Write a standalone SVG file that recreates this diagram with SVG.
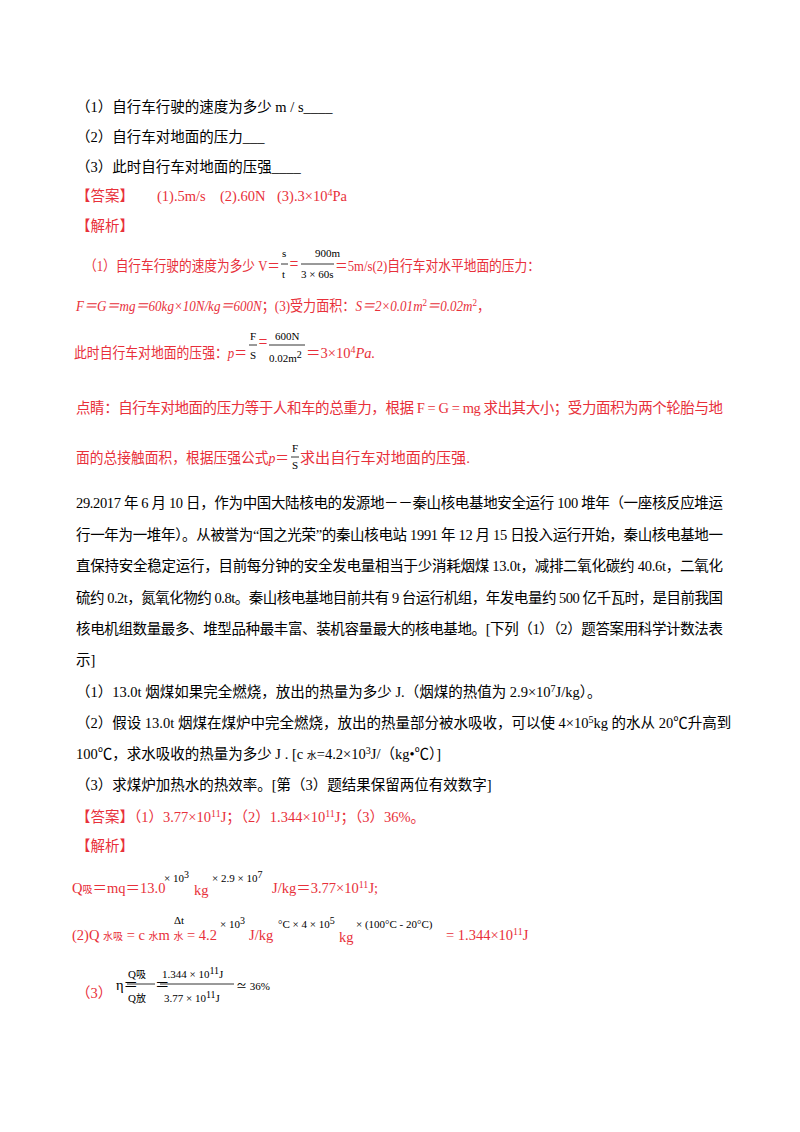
<svg xmlns="http://www.w3.org/2000/svg" width="800" height="1132" viewBox="0 0 800 1132">
<style>
text{font-family:"Liberation Serif","Noto Sans CJK SC",serif;font-size:14.5px;fill:#000}
.r{fill:#e8303a}
.s{font-size:10px}
.f{font-size:11px}
.a{font-family:"Liberation Sans","Noto Sans CJK SC",sans-serif}
line{stroke:#000;stroke-width:0.8}
</style>
<rect width="800" height="1132" fill="#fff"/>
<g id="q1">
<text x="76" y="112">（1）自行车行驶的速度为多少 m / s____</text>
<text x="76" y="142">（2）自行车对地面的压力___</text>
<text x="76" y="172">（3）此时自行车对地面的压强____</text>
<text x="76" y="201" class="r">【答案】</text>
<text x="157" y="201" class="r">(1).5m/s</text>
<text x="220" y="201" class="r">(2).60N</text>
<text x="277" y="201" class="r">(3).3×10<tspan class="s" dy="-5">4</tspan><tspan dy="5">Pa</tspan></text>
<text x="76" y="231" class="r">【解析】</text>
<text x="84" y="271" class="r" textLength="196" lengthAdjust="spacingAndGlyphs">（1）自行车行驶的速度为多少 V＝</text>
<text x="282" y="257" class="f">s</text><line x1="281" y1="264" x2="288" y2="264"/><text x="282" y="278" class="f">t</text>
<text x="289" y="269" class="r" textLength="10" lengthAdjust="spacingAndGlyphs">＝</text>
<text x="315" y="257" class="f">900m</text><line x1="301" y1="264" x2="334" y2="264"/><text x="301" y="278" class="f">3 × 60s</text>
<text x="335" y="271" class="r" textLength="205" lengthAdjust="spacingAndGlyphs">＝5m/s(2)自行车对水平地面的压力：</text>
<text x="76" y="311" class="r" textLength="414" lengthAdjust="spacingAndGlyphs"><tspan font-style="italic">F＝G＝mg＝60kg×10N/kg＝600N</tspan>；(3)受力面积：<tspan font-style="italic">S＝2×0.01m</tspan><tspan class="s" dy="-5">2</tspan><tspan dy="5" font-style="italic">＝0.02m</tspan><tspan class="s" dy="-5">2</tspan><tspan dy="5">，</tspan></text>
<text x="74" y="358" class="r" textLength="173" lengthAdjust="spacingAndGlyphs">此时自行车对地面的压强：<tspan font-style="italic">p</tspan>＝</text>
<text x="250" y="340" class="f">F</text><line x1="249" y1="345" x2="257" y2="345"/><text x="250" y="359" class="f">S</text>
<text x="258" y="347" class="r" textLength="10" lengthAdjust="spacingAndGlyphs">＝</text>
<text x="275" y="340" class="f">600N</text><line x1="269" y1="345" x2="305" y2="345"/><text x="269" y="362" class="f">0.02m<tspan class="s" dy="-4">2</tspan></text>
<text x="306" y="358" class="r">＝3×10<tspan class="s" dy="-5">4</tspan><tspan dy="5" font-style="italic">Pa.</tspan></text>
<text x="76" y="413" class="r" textLength="647">点睛：自行车对地面的压力等于人和车的总重力，根据 F = G = mg 求出其大小；受力面积为两个轮胎与地</text>
<text x="76" y="463" class="r" textLength="213" lengthAdjust="spacingAndGlyphs">面的总接触面积，根据压强公式<tspan font-style="italic">p</tspan>＝</text>
<text x="292" y="452" class="f">F</text><line x1="291" y1="457" x2="299" y2="457"/><text x="292" y="469" class="f">S</text>
<text x="300" y="463" class="r" textLength="170" lengthAdjust="spacingAndGlyphs">求出自行车对地面的压强.</text>
</g>
<g id="q29">
<text x="76" y="508" textLength="647">29.2017 年 6 月 10 日，作为中国大陆核电的发源地－－秦山核电基地安全运行 100 堆年（一座核反应堆运</text>
<text x="76" y="540" textLength="647">行一年为一堆年）。从被誉为“国之光荣”的秦山核电站 1991 年 12 月 15 日投入运行开始，秦山核电基地一</text>
<text x="76" y="571" textLength="647">直保持安全稳定运行，目前每分钟的安全发电量相当于少消耗烟煤 13.0t，减排二氧化碳约 40.6t，二氧化</text>
<text x="76" y="603" textLength="647">硫约 0.2t，氮氧化物约 0.8t。秦山核电基地目前共有 9 台运行机组，年发电量约 500 亿千瓦时，是目前我国</text>
<text x="76" y="634" textLength="647">核电机组数量最多、堆型品种最丰富、装机容量最大的核电基地。[下列（1）（2）题答案用科学计数法表</text>
<text x="76" y="665">示]</text>
<text x="76" y="697">（1）13.0t 烟煤如果完全燃烧，放出的热量为多少 J.（烟煤的热值为 2.9×10<tspan class="s" dy="-5">7</tspan><tspan dy="5">J/kg）。</tspan></text>
<text x="76" y="728">（2）假设 13.0t 烟煤在煤炉中完全燃烧，放出的热量部分被水吸收，可以使 4×10<tspan class="s" dy="-5">5</tspan><tspan dy="5">kg 的水从 20℃升高到</tspan></text>
<text x="76" y="759">100℃，求水吸收的热量为多少 J . [c <tspan class="s">水</tspan>=4.2×10<tspan class="s" dy="-5">3</tspan><tspan dy="5">J/（kg•℃）]</tspan></text>
<text x="76" y="790">（3）求煤炉加热水的热效率。[第（3）题结果保留两位有效数字]</text>
<text x="76" y="822" class="r">【答案】（1）3.77×10<tspan class="s" dy="-5">11</tspan><tspan dy="5">J；（2）1.344×10</tspan><tspan class="s" dy="-5">11</tspan><tspan dy="5">J；（3）36%。</tspan></text>
<text x="76" y="851" class="r">【解析】</text>
<text x="72" y="893" class="r">Q<tspan class="s">吸</tspan>＝mq＝13.0</text>
<text x="164" y="882" class="f">× 10<tspan class="s" dy="-4">3</tspan></text>
<text x="194" y="895" class="r">kg</text>
<text x="212" y="882" class="f">× 2.9 × 10<tspan class="s" dy="-4">7</tspan></text>
<text x="272" y="893" class="r">J/kg＝3.77×10<tspan class="s" dy="-5">11</tspan><tspan dy="5">J;</tspan></text>
<text x="72" y="940" class="r">(2)Q <tspan class="s">水吸</tspan> = c <tspan class="s">水</tspan>m <tspan class="s">水</tspan></text>
<text x="174" y="924" class="f">Δt</text>
<text x="187" y="940" class="r">= 4.2</text>
<text x="220" y="928" class="f">× 10<tspan class="s" dy="-4">3</tspan></text>
<text x="249" y="940" class="r">J/kg</text>
<text x="278" y="928" class="f">°C × 4 × 10<tspan class="s" dy="-4">5</tspan></text>
<text x="339" y="942" class="r">kg</text>
<text x="356" y="928" class="f">× (100°C - 20°C)</text>
<text x="446" y="940" class="r">=   1.344×10<tspan class="s" dy="-5">11</tspan><tspan dy="5">J</tspan></text>
<text x="76" y="998" class="r">（3）</text>
<text x="116" y="990">η＝</text>
<text x="128" y="978" class="f">Q<tspan class="s">吸</tspan></text><line x1="127" y1="984" x2="155" y2="984"/><text x="128" y="1002" class="f">Q<tspan class="s">放</tspan></text>
<text x="155" y="990">＝</text>
<text x="162" y="978" class="f">1.344 × 10<tspan class="s" dy="-4">11</tspan><tspan dy="4">J</tspan></text><line x1="160" y1="984" x2="234" y2="984"/><text x="164" y="1002" class="f">3.77 × 10<tspan class="s" dy="-4">11</tspan><tspan dy="4">J</tspan></text>
<text x="236" y="990" class="f">≃ 36%</text>
</g>
</svg>
